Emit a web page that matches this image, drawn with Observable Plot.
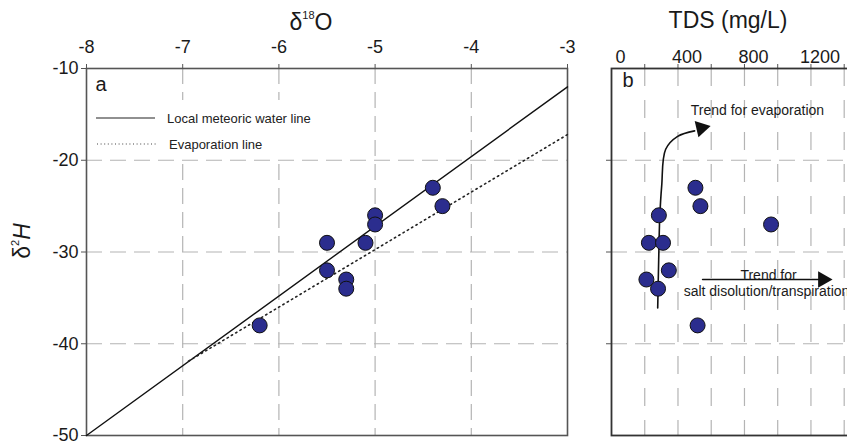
<!DOCTYPE html>
<html>
<head>
<meta charset="utf-8">
<script src="https://cdn.jsdelivr.net/npm/d3@7"></script>
<script src="https://cdn.jsdelivr.net/npm/@observablehq/plot@0.6"></script>
<style>
  html, body { margin: 0; padding: 0; background: #fff; }
  body { width: 847px; height: 447px; overflow: hidden; position: relative; font-family: "Liberation Sans", Arial, sans-serif; color: #1a1a1a; }
  .abs { position: absolute; }
  .abs svg { max-width: none !important; }
  .title { font-size: 23px; white-space: nowrap; transform: translate(-50%, -50%); }
  .title sup { font-size: 11px; vertical-align: 0; position: relative; top: -11px; }
  #legend { left: 88px; top: 100px; width: 236px; height: 57px; background: #fff; font-size: 13px; }
</style>
</head>
<body>
<div id="panelA" class="abs" style="left:0;top:0;width:600px;height:447px"></div>
<div id="panelB" class="abs" style="left:560px;top:0;width:300px;height:447px"></div>

<div class="abs title" style="left:311px;top:22px">δ<sup>18</sup>O</div>
<div class="abs title" style="left:728px;top:20px">TDS (mg/L)</div>
<div class="abs title" style="left:22px;top:241px;transform:translate(-50%,-50%) rotate(-90deg)">δ<sup>2</sup><i>H</i></div>

<div id="legend" class="abs">
  <svg width="236" height="57" style="position:absolute;left:0;top:0">
    <line x1="8" x2="67" y1="18" y2="18" stroke="#222" stroke-width="1.2"/>
    <line x1="9" x2="69" y1="44" y2="44" stroke="#444" stroke-width="1.2" stroke-dasharray="1,2.6"/>
    <text x="79" y="18" dy="0.35em" font-size="13" fill="#222">Local meteoric water line</text>
    <text x="81" y="44" dy="0.35em" font-size="13" fill="#222">Evaporation line</text>
  </svg>
</div>

<script>
// ---- data ----
const d18O = [-4.4, -4.3, -5.0, -5.0, -5.5, -5.1, -5.5, -5.3, -5.3, -6.2];
const d2H  = [-23, -25, -26, -27, -29, -29, -32, -33, -34, -38];
const tds  = [505, 535, 285, 960, 225, 310, 345, 210, 280, 518];

const xTicksA = [-8, -7, -6, -5, -4, -3];
const yTicks  = [-50, -40, -30, -20, -10];
const xGridA  = [-7, -6, -5, -4];
const yGrid   = [-40, -30, -20];

const lmwlX = [-8, -3];
const lmwlY = [-50, -12];
const evapX = [-6.94, -3];
const evapY = [-41.9, -17.2];

const tdsTicks  = [200, 400, 600, 800, 1000, 1200, 1400];
const tdsLabels = [0, 400, 800, 1200];

// trend annotations (panel b)
const evapTrendX = [278, 284, 290, 302, 326, 398, 500];
const evapTrendY = [-36.1, -30.8, -26.4, -22.8, -18.8, -17.4, -16.8];
const evapHeadX = [540], evapHeadY = [-16.5];
const saltTrendX = [548, 1245];
const saltTrendY = [-33, -33];
const saltHeadX = [1272], saltHeadY = [-33];
const noteText = ["Trend for evaporation", "Trend for", "salt disolution/transpiration"];
const noteX = [477, 945, 434];
const noteY = [-14.6, -32.6, -34.3];
const noteAnchor = ["start", "middle", "start"];

const samples = d18O.map((v, i) => ({d18O: v, d2H: d2H[i], tds: tds[i]}));
const lmwl = lmwlX.map((v, i) => ({x: v, y: lmwlY[i]}));
const evap = evapX.map((v, i) => ({x: v, y: evapY[i]}));
const evapTrend = evapTrendX.map((v, i) => ({x: v, y: evapTrendY[i]}));
const saltTrend = saltTrendX.map((v, i) => ({x: v, y: saltTrendY[i]}));
const notes = noteText.map((t, i) => ({t, x: noteX[i], y: noteY[i], a: noteAnchor[i]}));

const dotFill = "#2b2d8e";
const gridStyle = {stroke: "#b4b4b4", strokeOpacity: 1, strokeWidth: 1.2};
const baseStyle = {fontFamily: "'Liberation Sans', Arial, sans-serif", fontSize: "18px", color: "#1a1a1a", background: "transparent", overflow: "visible", maxWidth: "none"};

const A = Plot.plot({
  width: 600, height: 447,
  marginLeft: 86, marginRight: 33, marginTop: 68, marginBottom: 12,
  style: baseStyle,
  x: {domain: [-8, -3]},
  y: {domain: [-50, -10]},
  marks: [
    Plot.gridX(xGridA, {...gridStyle, strokeDasharray: "16,8"}),
    Plot.gridY(yGrid, {...gridStyle, strokeDasharray: "16,8"}),
    Plot.axisX(xTicksA, {anchor: "top", tickSize: 5, tickPadding: 11, tickFormat: d => String(d), label: null, fontSize: 18, stroke: "#555"}),
    Plot.axisY(yTicks, {anchor: "left", tickSize: 5, tickPadding: 3, tickFormat: d => String(d), label: null, fontSize: 18, stroke: "#555"}),
    Plot.frame({stroke: "#555", strokeWidth: 1.6}),
    Plot.line(lmwl, {x: "x", y: "y", stroke: "#111", strokeWidth: 1.4}),
    Plot.line(evap, {x: "x", y: "y", stroke: "#222", strokeWidth: 1.6, strokeDasharray: "1.4,3.6"}),
    Plot.dot(samples, {x: "d18O", y: "d2H", r: 7.5, fill: dotFill, stroke: "#111", strokeWidth: 1}),
    Plot.text(["a"], {frameAnchor: "top-left", dx: 9, dy: 8, fontSize: 20, lineAnchor: "top"})
  ]
});
document.getElementById("panelA").append(A);

const B = Plot.plot({
  width: 300, height: 447,
  marginLeft: 51, marginRight: 8, marginTop: 68, marginBottom: 12,
  style: baseStyle,
  x: {domain: [0, 1450]},
  y: {domain: [-50, -10]},
  marks: [
    Plot.gridX(tdsTicks, {...gridStyle, strokeDasharray: "18,14"}),
    Plot.gridY(yGrid, {...gridStyle, strokeDasharray: "16,8"}),
    Plot.axisX(tdsTicks, {anchor: "top", tickSize: 5, tickFormat: () => "", label: null, stroke: "#555"}),
    Plot.axisX(tdsLabels, {anchor: "top", tickSize: 0, tickPadding: 6, dx: 9, tickFormat: d => String(d), label: null, fontSize: 18}),
    Plot.axisY(yGrid, {anchor: "left", tickSize: 5, tickFormat: () => "", label: null, stroke: "#555"}),
    Plot.frame({stroke: "#333", strokeWidth: 1.8}),
    Plot.line(evapTrend, {x: "x", y: "y", curve: "catmull-rom", stroke: "#111", strokeWidth: 1.6}),
    Plot.dot(evapHeadX.map((v, i) => ({x: v, y: evapHeadY[i]})), {x: "x", y: "y", symbol: "triangle", r: 6.2, rotate: 77, fill: "#111", stroke: "none"}),
    Plot.line(saltTrend, {x: "x", y: "y", stroke: "#111", strokeWidth: 1.5}),
    Plot.dot(saltHeadX.map((v, i) => ({x: v, y: saltHeadY[i]})), {x: "x", y: "y", symbol: "triangle", r: 6.2, rotate: 90, fill: "#111", stroke: "none"}),
    Plot.dot(samples, {x: "tds", y: "d2H", r: 7.5, fill: dotFill, stroke: "#111", strokeWidth: 1}),
    Plot.text(notes, {x: "x", y: "y", text: "t", textAnchor: "start", fontSize: 14, fill: "#1a1a1a", filter: d => d.a === "start"}),
    Plot.text(notes, {x: "x", y: "y", text: "t", textAnchor: "middle", fontSize: 14, fill: "#1a1a1a", filter: d => d.a === "middle"}),
    Plot.text(["b"], {frameAnchor: "top-left", dx: 11, dy: 4, fontSize: 20, lineAnchor: "top"})
  ]
});
document.getElementById("panelB").append(B);
</script>
</body>
</html>
